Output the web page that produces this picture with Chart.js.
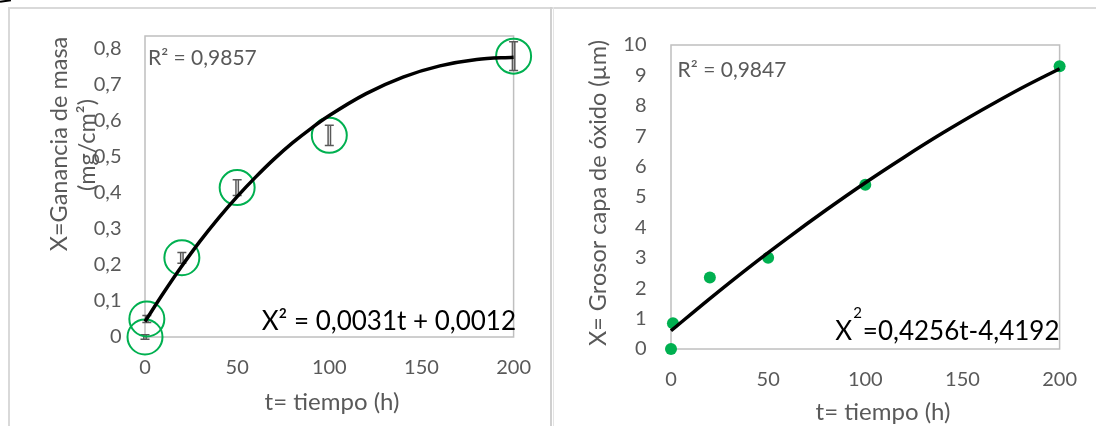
<!DOCTYPE html>
<html>
<head>
<meta charset="utf-8">
<script src="https://cdn.jsdelivr.net/npm/chart.js@4.4.0/dist/chart.umd.min.js"></script>
<style>
  body { margin: 0; background: #fff; }
  #wrap { position: relative; width: 1096px; height: 426px; overflow: hidden; background: #fff; }
  canvas { position: absolute; top: 0; }
  .rule { position: absolute; background: #d9d9d9; z-index: 2; }
</style>
</head>
<body>
<div id="wrap">
  <canvas id="masaChart" width="550" height="426" style="left:0"></canvas>
  <canvas id="grosorChart" width="543" height="426" style="left:553px"></canvas>
  <div class="rule" style="left:8px;top:7px;width:1088px;height:2px"></div>
  <div class="rule" style="left:8px;top:7px;width:2px;height:419px"></div>
  <div class="rule" style="left:550px;top:7px;width:2px;height:419px;background:#d0d0d0"></div>
  <div class="rule" style="left:553px;top:7px;width:1px;height:419px;background:#e4e4e4"></div>
  <div style="position:absolute;left:0;top:0;width:11px;height:2px;background:#000;transform:rotate(-8deg)"></div>
</div>
<script>
// ensayo de oxidación: tiempo (h)
const tiempo = [0, 1, 20, 50, 100, 200];
// ganancia de masa (mg/cm2) y su desviación
const masa = [0, 0.05, 0.22, 0.415, 0.56, 0.78];
const errorMasa = [0.006, 0.01, 0.015, 0.022, 0.028, 0.04];
// grosor de la capa de óxido (µm)
const grosor = [0, 0.85, 2.35, 3.0, 5.4, 9.3];

// líneas de tendencia
const tAjusteMasa = [0, 10, 20, 30, 40, 50, 60, 70, 80, 90, 100, 120, 140, 160, 180, 200];
const ajusteMasa = [0.043, 0.122, 0.197, 0.267, 0.331, 0.390, 0.444, 0.494, 0.539, 0.579, 0.615, 0.676, 0.722, 0.753, 0.771, 0.777];
const tAjusteGrosor = [0, 20, 40, 60, 80, 100, 120, 140, 160, 180, 200];
const ajusteGrosor = [0.60, 1.66, 2.68, 3.65, 4.58, 5.47, 6.31, 7.11, 7.86, 8.57, 9.22];

// marcas de los ejes
const ticksTiempo = [0, 50, 100, 150, 200];
const ticksMasa = [0, 0.1, 0.2, 0.3, 0.4, 0.5, 0.6, 0.7, 0.8];
const ticksGrosor = [0, 1, 2, 3, 4, 5, 6, 7, 8, 9, 10];

const gris = '#595959';
const verde = '#00b050';
const fuente = 'Lato';

function coma(v) {
  return (Math.round(v * 10) / 10).toString().replace('.', ',');
}

function pares(xs, ys) {
  return xs.map((x, i) => ({ x: x, y: ys[i] }));
}

function ejes(yMin, yMax, yTicks, yWidth, xHeight, yPad, xPad) {
  return {
    x: {
      type: 'linear', min: 0, max: 200,
      afterBuildTicks: s => { s.ticks = ticksTiempo.map(v => ({ value: v })); },
      afterFit: s => { s.height = xHeight; },
      grid: { display: false, drawTicks: false },
      border: { display: false },
      ticks: { padding: xPad, color: gris, font: { family: fuente, size: 20 } }
    },
    y: {
      type: 'linear', min: yMin, max: yMax,
      afterBuildTicks: s => { s.ticks = yTicks.map(v => ({ value: v })); },
      afterFit: s => { s.width = yWidth; },
      grid: { display: false, drawTicks: false },
      border: { display: false },
      ticks: { padding: yPad, color: gris, font: { family: fuente, size: 20 }, callback: v => coma(v) }
    }
  };
}

function marco(chart) {
  const a = chart.chartArea;
  const ctx = chart.ctx;
  ctx.save();
  ctx.strokeStyle = '#bfbfbf';
  ctx.lineWidth = 1.5;
  ctx.strokeRect(a.left, a.top, a.right - a.left, a.bottom - a.top);
  ctx.restore();
}

function texto(ctx, str, x, y, size, color, align, base) {
  ctx.font = size + 'px ' + fuente;
  ctx.fillStyle = color;
  ctx.textAlign = align || 'left';
  ctx.textBaseline = base || 'middle';
  ctx.fillText(str, x, y);
}

function ancho(ctx, str, size) {
  ctx.font = size + 'px ' + fuente;
  return ctx.measureText(str).width;
}

function vertical(ctx, str, x, y, size) {
  ctx.save();
  ctx.translate(x, y);
  ctx.rotate(-Math.PI / 2);
  texto(ctx, str, 0, 0, size, gris, 'center', 'middle');
  ctx.restore();
}

const decorMasa = {
  id: 'decorMasa',
  beforeDatasetsDraw(chart) {
    marco(chart);
    const ctx = chart.ctx;
    const xs = chart.scales.x, ys = chart.scales.y;
    ctx.save();
    ctx.strokeStyle = gris;
    tiempo.forEach((t, i) => {
      const px = xs.getPixelForValue(t);
      const y1 = ys.getPixelForValue(masa[i] - errorMasa[i]);
      const y2 = ys.getPixelForValue(masa[i] + errorMasa[i]);
      ctx.lineWidth = 1.5;
      ctx.beginPath();
      ctx.moveTo(px - 1.2, y1); ctx.lineTo(px - 1.2, y2);
      ctx.moveTo(px + 1.2, y1); ctx.lineTo(px + 1.2, y2);
      ctx.moveTo(px - 4.5, y1); ctx.lineTo(px + 4.5, y1);
      ctx.moveTo(px - 4.5, y2); ctx.lineTo(px + 4.5, y2);
      ctx.stroke();
    });
    ctx.restore();
  },
  afterDraw(chart) {
    const ctx = chart.ctx;
    ctx.save();
    texto(ctx, 'R² = 0,9857', 148, 58, 21, gris);
    texto(ctx, 'X² = 0,0031t + 0,0012', 516, 330, 26, '#000', 'right', 'alphabetic');
    texto(ctx, 't= tiempo (h)', 332, 402, 24, gris, 'center');
    vertical(ctx, 'X=Ganancia de masa', 59, 144, 23.5);
    vertical(ctx, '(mg/cm²)', 87.5, 145, 23.5);
    ctx.restore();
  }
};

const decorGrosor = {
  id: 'decorGrosor',
  beforeDatasetsDraw(chart) {
    marco(chart);
  },
  afterDraw(chart) {
    const ctx = chart.ctx;
    ctx.save();
    texto(ctx, 'R² = 0,9847', 124.6, 70, 21, gris);
    // ecuación: X, exponente 2 elevado a su derecha, y el resto
    const resto = '=0,4256t-4,4192';
    const wX = ancho(ctx, 'X', 26);
    const w2 = ancho(ctx, '2', 15);
    const wResto = ancho(ctx, resto, 26);
    const x0 = 506.5 - wResto - w2 - wX - 2;
    texto(ctx, 'X', x0, 340, 26, '#000', 'left', 'alphabetic');
    texto(ctx, '2', x0 + wX + 1, 318, 15, '#000', 'left', 'alphabetic');
    texto(ctx, resto, x0 + wX + w2 + 2, 340, 26, '#000', 'left', 'alphabetic');
    texto(ctx, 't= tiempo (h)', 330, 412, 24, gris, 'center');
    vertical(ctx, 'X= Grosor capa de óxido (µm)', 45.5, 193, 23.5);
    ctx.restore();
  }
};

const base = {
  responsive: false,
  animation: false,
  devicePixelRatio: 1,
  events: [],
  plugins: { legend: { display: false }, tooltip: { enabled: false } }
};

new Chart(document.getElementById('masaChart'), {
  type: 'scatter',
  data: {
    datasets: [{
      data: pares(tAjusteMasa, ajusteMasa),
      showLine: true,
      borderColor: '#000',
      borderWidth: 3.5,
      pointRadius: 0,
      cubicInterpolationMode: 'monotone',
      clip: false
    }, {
      data: pares(tiempo, masa),
      pointRadius: 17.5,
      pointBorderWidth: 2,
      pointBorderColor: verde,
      pointBackgroundColor: 'rgba(0,0,0,0)',
      clip: false
    }]
  },
  options: Object.assign({}, base, {
    layout: { padding: { left: 0, right: 36, top: 36, bottom: 0 } },
    scales: ejes(0, 0.836, ticksMasa, 145, 89, 23.5, 19)
  }),
  plugins: [decorMasa]
});

new Chart(document.getElementById('grosorChart'), {
  type: 'scatter',
  data: {
    datasets: [{
      data: pares(tAjusteGrosor, ajusteGrosor),
      showLine: true,
      borderColor: '#000',
      borderWidth: 3.5,
      pointRadius: 0,
      cubicInterpolationMode: 'monotone',
      clip: false
    }, {
      data: pares(tiempo, grosor),
      pointRadius: 6,
      pointBorderWidth: 0,
      pointBackgroundColor: verde,
      clip: false
    }]
  },
  options: Object.assign({}, base, {
    layout: { padding: { left: 0, right: 34, top: 45, bottom: 0 } },
    scales: ejes(0, 10, ticksGrosor, 118, 77, 24.5, 19)
  }),
  plugins: [decorGrosor]
});
</script>
</body>
</html>
